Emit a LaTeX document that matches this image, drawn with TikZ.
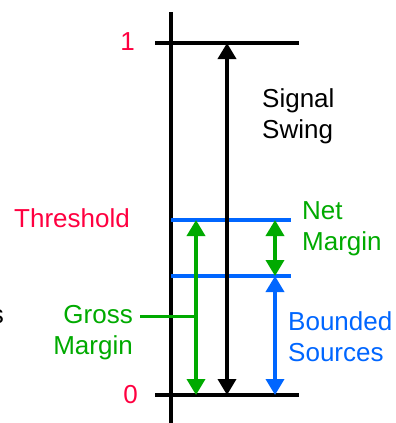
\documentclass[tikz,border=0pt]{standalone}
\usepackage{fontspec}
\setmainfont{Liberation Sans}
\usetikzlibrary{arrows.meta}
\definecolor{cred}{RGB}{255,0,64}
\definecolor{cgreen}{RGB}{0,170,0}
\definecolor{cblue}{RGB}{0,102,255}
\tikzset{
  lbl/.style={inner sep=0pt, font=\fontsize{26}{31}\selectfont, align=left},
  lblr/.style={inner sep=0pt, font=\fontsize{26}{31}\selectfont, align=right},
  dbl/.style={line width=3.5pt, {Triangle[width=18pt,length=16pt]}-{Triangle[width=18pt,length=16pt]}},
  rule/.style={line width=3.5pt}
}
\begin{document}
\begin{tikzpicture}[x=1pt,y=-1pt]
\useasboundingbox (0,0) rectangle (396,423);
% coordinates
\coordinate (axT) at (171,12);
\coordinate (axB) at (171,423);
\coordinate (oneL) at (155,43);
\coordinate (oneR) at (299,43);
\coordinate (zeroL) at (155,395);
\coordinate (zeroR) at (299,395);
\coordinate (thL) at (171,220);
\coordinate (thR) at (291,220);
\coordinate (bsL) at (171,276);
\coordinate (bsR) at (291,276);
\coordinate (swT) at (227,43);
\coordinate (swB) at (227,395);
\coordinate (gmT) at (196,220);
\coordinate (gmB) at (196,395);
\coordinate (gmJ) at (196,316);
\coordinate (gmS) at (140,316);
\coordinate (nmT) at (275,220);
\coordinate (nmB) at (275,276);
\coordinate (bdB) at (275,395);
% axis and levels
\draw[rule] (axT) -- (axB);
\draw[rule] (oneL) -- (oneR);
\draw[rule] (zeroL) -- (zeroR);
\draw[rule, cblue] (thL) -- (thR);
\draw[rule, cblue] (bsL) -- (bsR);
% arrows
\draw[dbl] (swB) -- (swT);
\draw[dbl, cgreen, fill=cgreen] (gmB) -- (gmT);
\draw[dbl, cgreen, fill=cgreen] (nmB) -- (nmT);
\draw[dbl, cblue, fill=cblue] (bdB) -- (nmB);
% labels
\node[lblr, cred, anchor=base east] (one) at (135,50) {1};
\node[lblr, cred, anchor=base east] (zero) at (138,403) {0};
\node[lblr, cred, anchor=base east] (thr) at (130,227) {Threshold};
\node[lbl, anchor=base west] (sig) at (262,138) {Signal\\Swing};
\node[lbl, cgreen, anchor=base west] (net) at (302,250) {Net\\Margin};
\node[lbl, cblue, anchor=base west] (bnd) at (288,361) {Bounded\\Sources};
\node[lblr, cgreen, anchor=base east] (gross) at (133,354) {Gross\\Margin};
\node[lblr, anchor=base east] (cut) at (4,323) {s};
\draw[line width=3pt, cgreen] (gmS) -- (gmJ);
\end{tikzpicture}
\end{document}
